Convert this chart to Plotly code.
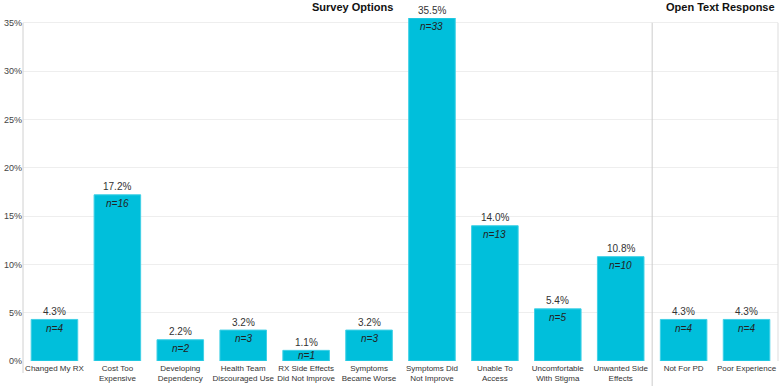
import plotly.graph_objects as go

categories = ["Changed My RX", "Cost Too<br>Expensive", "Developing<br>Dependency",
              "Health Team<br>Discouraged Use", "RX Side Effects<br>Did Not Improve",
              "Symptoms<br>Became Worse", "Symptoms Did<br>Not Improve", "Unable To<br>Access",
              "Uncomfortable<br>With Stigma", "Unwanted Side<br>Effects", "Not For PD",
              "Poor Experience"]
percents = [4.3, 17.2, 2.2, 3.2, 1.1, 3.2, 35.5, 14.0, 5.4, 10.8, 4.3, 4.3]
counts = [4, 16, 2, 3, 1, 3, 33, 13, 5, 10, 4, 4]
y_ticks = [0, 5, 10, 15, 20, 25, 30, 35]
y_tick_labels = ["0%", "5%", "10%", "15%", "20%", "25%", "30%", "35%"]
section_titles = ["Survey Options", "Open Text Response"]

FONT = "Liberation Sans, Arial, sans-serif"
x = list(range(len(categories)))

fig = go.Figure()
fig.add_trace(go.Bar(
    x=x, y=percents, width=0.74,
    marker=dict(color="#00BFDB", line=dict(color="#3FD0E6", width=1)),
    hoverinfo="skip", showlegend=False,
))

annotations = []
for xi, p, c in zip(x, percents, counts):
    annotations.append(dict(x=xi, y=p, xref="x", yref="y", text=f"{p:.1f}%",
                            showarrow=False, yanchor="middle", yshift=8,
                            font=dict(family=FONT, size=10, color="#333333")))
    annotations.append(dict(x=xi, y=max(p - 0.92, p / 2), xref="x", yref="y",
                            text=f"<i>n={c}</i>", showarrow=False, yanchor="middle",
                            font=dict(family=FONT, size=10, color="#222222")))
annotations.append(dict(text=f"<b>{section_titles[0]}</b>", x=4.73, xref="x", y=1.0,
                        yref="paper", yanchor="top", yshift=19, showarrow=False,
                        font=dict(family=FONT, size=11, color="#111111")))
annotations.append(dict(text=f"<b>{section_titles[1]}</b>", x=10.58, xref="x", y=1.0,
                        yref="paper", yanchor="top", yshift=19, showarrow=False,
                        font=dict(family=FONT, size=11, color="#111111")))

fig.update_layout(
    width=780, height=386,
    margin=dict(l=23, r=2, t=18, b=25, autoexpand=False),
    plot_bgcolor="white", paper_bgcolor="white",
    font=dict(family=FONT, size=10, color="#444444"),
    xaxis=dict(range=[-0.5, len(categories) - 0.5], tickmode="array", tickvals=x,
               ticktext=categories, showgrid=False, zeroline=False, showline=False,
               ticks="", tickfont=dict(size=8, color="#333333"), tickangle=0,
               automargin=False, ticklabelstandoff=1),
    yaxis=dict(range=[0, 35.5], tickmode="array", tickvals=y_ticks, ticktext=y_tick_labels,
               showgrid=True, gridcolor="#EEEEEE", zeroline=False, showline=False,
               ticks="", tickfont=dict(size=9, color="#444444"),
               automargin=False),
    shapes=[
        dict(type="line", xref="paper", yref="paper", x0=0, x1=0, y0=-0.035, y1=35 / 35.5,
             line=dict(color="#D0D0D0", width=1)),
        dict(type="line", xref="x", yref="paper", x0=9.5, x1=9.5, y0=-0.08, y1=35 / 35.5,
             line=dict(color="#CCCCCC", width=1)),
        dict(type="line", xref="paper", yref="paper", x0=1, x1=1, y0=0, y1=35 / 35.5,
             line=dict(color="#DDDDDD", width=1)),
    ],
    annotations=annotations,
)

fig.write_html("out.html", config={"displayModeBar": False},
               post_script="document.body.style.margin='0';")
